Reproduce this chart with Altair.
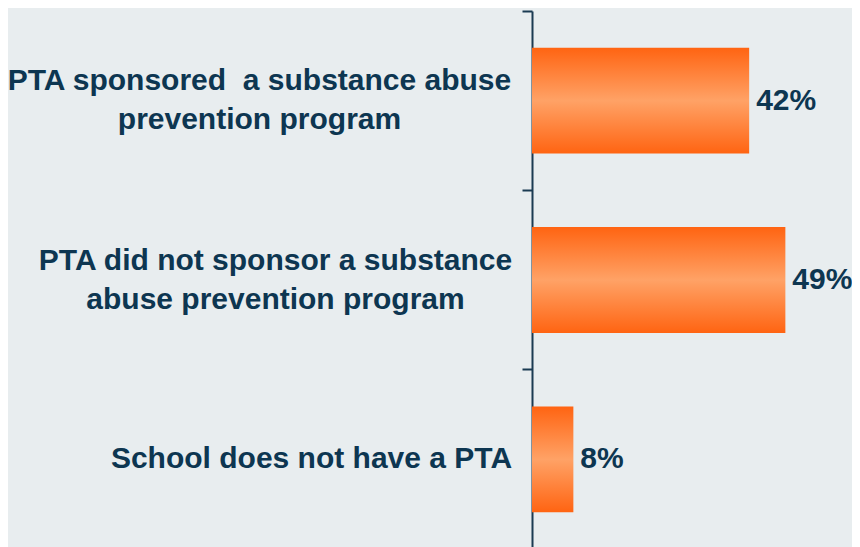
import json
import altair as alt
import pandas as pd

# ---- data ----
categories = [
    "PTA sponsored\u00a0 a substance abuse|prevention program",
    "PTA did not sponsor a substance|abuse prevention program",
    "School does not have a PTA",
]
values = [42, 49, 8]
value_labels = ["42%", "49%", "8%"]

df = pd.DataFrame({"category": categories, "value": values, "label": value_labels})

# ---- style ----
NAVY = "#0D3651"
AXIS = "#1B3B52"
label_pads = [263, 247, 211]  # distance of each centred label block from the tick end
line_height = 39

pad_condition = [
    {"test": f"datum.value == {json.dumps(c)}", "value": p}
    for c, p in zip(categories[:2], label_pads[:2])
]
two_line = " || ".join(f"datum.value == {json.dumps(c)}" for c in categories if "|" in c)
offset_condition = [{"test": two_line, "value": -line_height / 2}]

gradient = alt.LinearGradient(
    gradient="linear",
    stops=[
        alt.GradientStop(color="#FF6412", offset=0),
        alt.GradientStop(color="#FFA266", offset=0.5),
        alt.GradientStop(color="#FF6412", offset=1),
    ],
    x1=0, x2=0, y1=0, y2=1,
)

y_enc = alt.Y(
    "category:N",
    sort=categories,
    title=None,
    scale=alt.Scale(paddingInner=0, paddingOuter=0),
    axis=alt.Axis(
        bandPosition=0,
        labelOffset={"condition": offset_condition, "value": 0},
        labelAlign="center",
        labelPadding={"condition": pad_condition, "value": label_pads[2]},
        labelExpr="split(datum.value, '|')",
        labelFont="Liberation Sans",
        labelFontWeight="bold",
        labelFontSize=30,
        labelLineHeight=line_height,
        labelColor=NAVY,
        labelLimit=0,
        domainColor=AXIS,
        domainWidth=2,
        tickColor=AXIS,
        tickWidth=2,
        tickSize=10,
        grid=False,
    ),
)
x_enc = alt.X("value:Q", scale=alt.Scale(domain=[0, 61.5]), axis=None)

bars = alt.Chart(df).mark_bar(
    height=alt.RelativeBandSize(0.59), color=gradient
).encode(x=x_enc, y=y_enc)

texts = alt.Chart(df).mark_text(
    align="left", baseline="middle", dx=7,
    font="Liberation Sans", fontWeight="bold", fontSize=30, color=NAVY,
).encode(x=x_enc, y=alt.Y("category:N", sort=categories), text="label:N")

chart = (
    alt.layer(bars, texts)
    .properties(
        width=318,
        height=538,
        autosize=alt.AutoSizeParams(type="none"),
        padding={"left": 524, "top": 3, "right": 2, "bottom": 0},
        background="#E8EDEF",
    )
    .configure_view(stroke=None)
)

chart.save("out.html", embed_options={"renderer": "svg", "actions": False})
